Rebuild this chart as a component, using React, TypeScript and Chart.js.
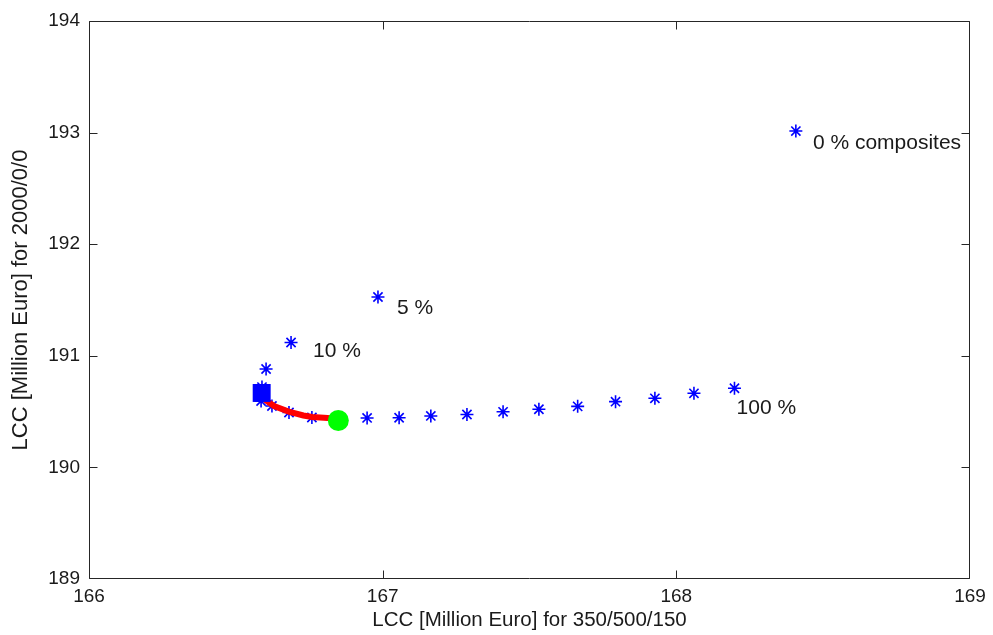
import React, { useEffect, useRef } from 'react';
import { Chart, registerables } from 'chart.js';

Chart.register(...registerables);

// Axis ticks
const xTicks = [166, 167, 168, 169];
const yTicks = [189, 190, 191, 192, 193, 194];

// Composite share sweep 0 % .. 100 % (steps of 5 %)
const compX = [168.407, 166.984, 166.688, 166.603, 166.589, 166.586, 166.623, 166.681, 166.759, 166.848,
  166.947, 167.056, 167.164, 167.287, 167.41, 167.532, 167.664, 167.793, 167.927, 168.06, 168.198];
const compY = [193.014, 191.527, 191.119, 190.882, 190.72, 190.595, 190.55, 190.492, 190.447, 190.429,
  190.443, 190.445, 190.461, 190.474, 190.498, 190.521, 190.547, 190.589, 190.619, 190.664, 190.709];

// Red front
const frontX = [166.588, 166.603, 166.63, 166.68, 166.73, 166.76, 166.8, 166.848];
const frontY = [190.667, 190.6, 190.55, 190.5, 190.465, 190.452, 190.445, 190.435];

// Blue square and green circle
const squareX = [166.588];
const squareY = [190.667];
const circleX = [166.849];
const circleY = [190.42];

// Text annotations
const noteText = ['0 % composites', '5 %', '10 %', '100 %'];
const noteX = [168.465, 167.049, 166.763, 168.205];
const noteY = [192.905, 191.428, 191.037, 190.53];

const xTitle = 'LCC [Million Euro] for 350/500/150';
const yTitle = 'LCC [Million Euro] for 2000/0/0';

const FONT = "'Liberation Sans', Arial, Helvetica, sans-serif";
const INK = '#1a1a1a';

const pts = (xs: number[], ys: number[]) => xs.map((x, i) => ({ x, y: ys[i] }));

export default function App() {
  const ref = useRef<HTMLCanvasElement>(null);

  useEffect(() => {
    if (!ref.current) return;
    const boxPlugin = {
      id: 'matlabBox',
      afterDraw(chart: any) {
        const { ctx, chartArea: a, scales } = chart;
        const xs = scales.x;
        const ys = scales.y;
        ctx.save();
        ctx.strokeStyle = '#262626';
        ctx.lineWidth = 1;
        const L = Math.round(a.left) + 0.5;
        const R = Math.round(a.right) - 0.5;
        const T = Math.round(a.top) + 0.5;
        const B = Math.round(a.bottom) - 0.5;
        const clamp = (v: number, lo: number, hi: number) => Math.min(hi, Math.max(lo, v));
        ctx.beginPath();
        ctx.rect(L, T, R - L, B - T);
        const tl = 8;
        xTicks.forEach((v) => {
          const px = clamp(Math.round(xs.getPixelForValue(v)) + 0.5, L, R);
          ctx.moveTo(px, B); ctx.lineTo(px, B - tl);
          ctx.moveTo(px, T); ctx.lineTo(px, T + tl);
        });
        yTicks.forEach((v) => {
          const py = clamp(Math.round(ys.getPixelForValue(v)) + 0.5, T, B);
          ctx.moveTo(L, py); ctx.lineTo(L + tl, py);
          ctx.moveTo(R, py); ctx.lineTo(R - tl, py);
        });
        ctx.stroke();
        ctx.fillStyle = INK;
        ctx.font = `21px ${FONT}`;
        ctx.textAlign = 'left';
        ctx.textBaseline = 'middle';
        noteText.forEach((t, i) => {
          ctx.fillText(t, xs.getPixelForValue(noteX[i]), ys.getPixelForValue(noteY[i]));
        });
        ctx.restore();
      },
    };

    const chart = new Chart(ref.current, {
      type: 'scatter',
      data: {
        datasets: [
          {
            label: 'composites',
            data: pts(compX, compY),
            pointStyle: 'star',
            pointRadius: 6.5,
            pointBorderColor: '#0000ff',
            pointBackgroundColor: '#0000ff',
            pointBorderWidth: 1.6,
            showLine: false,
            order: 4,
          } as any,
          {
            label: 'front',
            data: pts(frontX, frontY),
            showLine: true,
            borderColor: '#ff0000',
            borderWidth: 6,
            pointRadius: 0,
            tension: 0,
            order: 3,
          } as any,
          {
            label: 'square',
            data: pts(squareX, squareY),
            pointStyle: 'rect',
            pointRadius: 12.7,
            pointBackgroundColor: '#0000ff',
            pointBorderColor: '#0000ff',
            pointBorderWidth: 0,
            order: 2,
          } as any,
          {
            label: 'circle',
            data: pts(circleX, circleY),
            pointStyle: 'circle',
            pointRadius: 10.5,
            pointBackgroundColor: '#00ff00',
            pointBorderColor: '#00ff00',
            pointBorderWidth: 0,
            order: 1,
          } as any,
        ],
      },
      options: {
        responsive: false,
        devicePixelRatio: 1,
        animation: false,
        events: [],
        layout: { padding: { left: 0, right: 23, top: 21, bottom: 0 } },
        plugins: { legend: { display: false }, tooltip: { enabled: false } },
        scales: {
          x: {
            type: 'linear',
            min: 166,
            max: 169,
            afterFit: (s: any) => { s.height = 56; },
            afterBuildTicks: (s: any) => { s.ticks = xTicks.map((v) => ({ value: v })); },
            grid: { display: false, drawTicks: false },
            border: { display: false },
            ticks: { padding: 6, color: INK, font: { size: 19, family: FONT }, maxRotation: 0, callback: (v: any) => String(v) },
            title: { display: true, text: xTitle, color: INK, font: { size: 20.5, family: FONT }, padding: { top: 0, bottom: 2 } },
          },
          y: {
            type: 'linear',
            min: 189,
            max: 194,
            afterFit: (s: any) => { s.width = 89; },
            afterBuildTicks: (s: any) => { s.ticks = yTicks.map((v) => ({ value: v })); },
            grid: { display: false, drawTicks: false },
            border: { display: false },
            ticks: { padding: 9, color: INK, font: { size: 19, family: FONT }, callback: (v: any) => String(v) },
            title: { display: true, text: yTitle, color: INK, font: { size: 22, family: FONT }, padding: { top: 8, bottom: 0 } },
          },
        },
      } as any,
      plugins: [boxPlugin],
    });
    return () => chart.destroy();
  }, []);

  return (
    <div style={{ position: 'fixed', left: 0, top: 0, width: 993, height: 635, background: '#fff' }}>
      <canvas ref={ref} width={993} height={635} style={{ display: 'block' }} />
    </div>
  );
}
